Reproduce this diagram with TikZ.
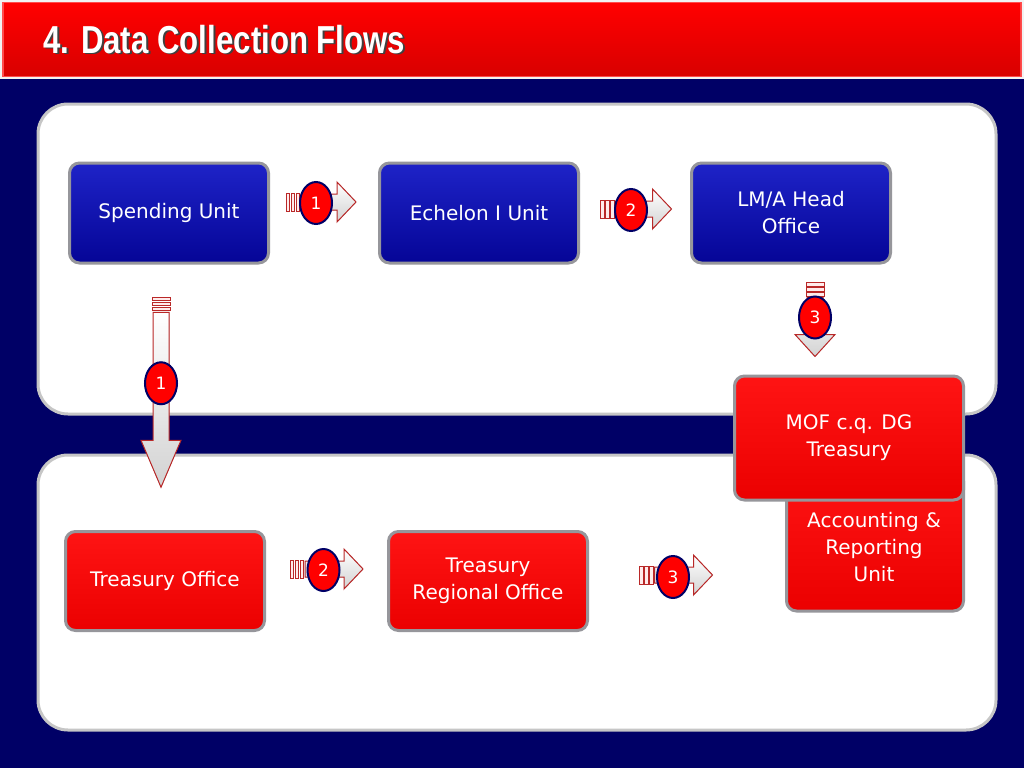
\documentclass[tikz,border=0pt]{standalone}
\usepackage{fontspec}
\setmainfont{DejaVu Sans}
\newfontfamily\titlefont{Liberation Sans}
\usetikzlibrary{calc,shapes.geometric}

\definecolor{navybg}{RGB}{0,0,102}
\definecolor{boxblue}{RGB}{5,5,150}
\definecolor{boxbluetop}{RGB}{30,35,200}
\definecolor{boxred}{RGB}{235,0,0}
\definecolor{boxredtop}{RGB}{255,20,20}
\definecolor{rimgray}{RGB}{150,150,155}
\definecolor{arrowred}{RGB}{185,40,40}

\tikzset{
  panel/.style={draw=gray!45, line width=3, fill=white, rounded corners=30},
  unitbox/.style={rounded corners=10, draw=rimgray, line width=3, text=white,
    align=center, font=\fontsize{20}{27}\selectfont},
  bluebox/.style={unitbox, top color=boxbluetop, bottom color=boxblue,
    minimum width=199, minimum height=100},
  redbox/.style={unitbox, top color=boxredtop, bottom color=boxred},
  stepnum/.style={ellipse, draw=navybg, line width=2, fill=red, text=white,
    minimum width=32, minimum height=42, inner sep=0,
    font=\fontsize{17}{17}\selectfont},
  tailbar/.style={draw=arrowred, fill=red!8, line width=0.8},
  arrowbody/.style={draw=arrowred, line width=1, top color=white, bottom color=gray!35},
  pics/flowarrow/.style 2 args={code={
    \foreach \k in {0,5,10}
      \filldraw[tailbar] (\k-#1/2,-9) rectangle ++(3.5,18);
    \filldraw[arrowbody] (15-#1/2,-8) -- (#1/2-#2,-8) -- (#1/2-#2,-20) -- (#1/2,0)
      -- (#1/2-#2,20) -- (#1/2-#2,8) -- (15-#1/2,8) -- cycle;
  }}
}

\begin{document}
\begin{tikzpicture}[x=1pt,y=-1pt]
\useasboundingbox (0,0) rectangle (1024,768);
\fill[navybg] (0,0) rectangle (1024,768);

% title bar
\fill[white!90!gray] (0,0) rectangle (1024,79);
\fill[red!70!white] (2,2) rectangle (1022,77);
\shade[top color=red, bottom color=red!85!black] (4,4) rectangle (1020,75);
\node[anchor=base west, text=black!75, font=\titlefont\bfseries\fontsize{39}{39}\selectfont]
  (titleshadow) at (42,55) {\scalebox{0.8}[1]{4. Data Collection Flows}};
\node[anchor=base west, text=white, font=\titlefont\bfseries\fontsize{39}{39}\selectfont]
  (title) at (40,53) {\scalebox{0.8}[1]{4. Data Collection Flows}};

% panels
\draw[panel] (38,104) rectangle (996,414);
\draw[panel] (38,455) rectangle (996,730);

% upper row
\node[bluebox] (su) at (169,213) {Spending Unit};
\node[bluebox] (e1) at (479,213) {Echelon I Unit};
\node[bluebox] (lm) at (791,213) {LM/A Head\\Office};

% lower row
\node[redbox, minimum width=199, minimum height=99] (to) at (165,581) {Treasury Office};
\node[redbox, minimum width=199, minimum height=99] (tro) at (488,581) {Treasury\\Regional Office};
\node[redbox, minimum width=177, minimum height=140] (aru) at (875,541) {};
\node[text=white, align=center, font=\fontsize{20}{27}\selectfont] (arutext) at (874,547)
  {Accounting \&\\Reporting\\Unit};
\node[redbox, minimum width=229, minimum height=124] (mof) at (849,438) {MOF c.q. DG\\Treasury};

% flow arrows
\coordinate (f1) at ($(su.east)!.5!(e1.west)+(-3,-11)$);
\coordinate (f2) at ($(e1.east)!.5!(lm.west)+(1,-4)$);
\coordinate (f3) at ($(lm.south)!.5!(mof.north)+(-5,0)$);
\coordinate (g1) at ($(su.south)!.5!(to.north)+(-6,-5)$);
\coordinate (g2) at ($(to.east)!.5!(tro.west)+(0,-12)$);
\coordinate (g3) at ($(tro.east)!.5!(aru.west)+(-11,14)$);

\pic at (f1) {flowarrow={70}{19}};
\pic at (f2) {flowarrow={71}{19}};
\pic[rotate=-90] at (f3) {flowarrow={74}{22}};
\pic[rotate=-90] at (g1) {flowarrow={190}{47}};
\pic at (g2) {flowarrow={73}{19}};
\pic at (g3) {flowarrow={73}{19}};

% step numbers
\node[stepnum] (s1) at ($(f1)+(-5,1)$) {1};
\node[stepnum] (s2) at ($(f2)+(-5,1)$) {2};
\node[stepnum] (s3) at ($(f3)+(0,-2)$) {3};
\node[stepnum] (t1) at ($(g1)+(0,-9)$) {1};
\node[stepnum] (t2) at ($(g2)+(-3,1)$) {2};
\node[stepnum] (t3) at ($(g3)+(-3,2)$) {3};
\end{tikzpicture}
\end{document}
